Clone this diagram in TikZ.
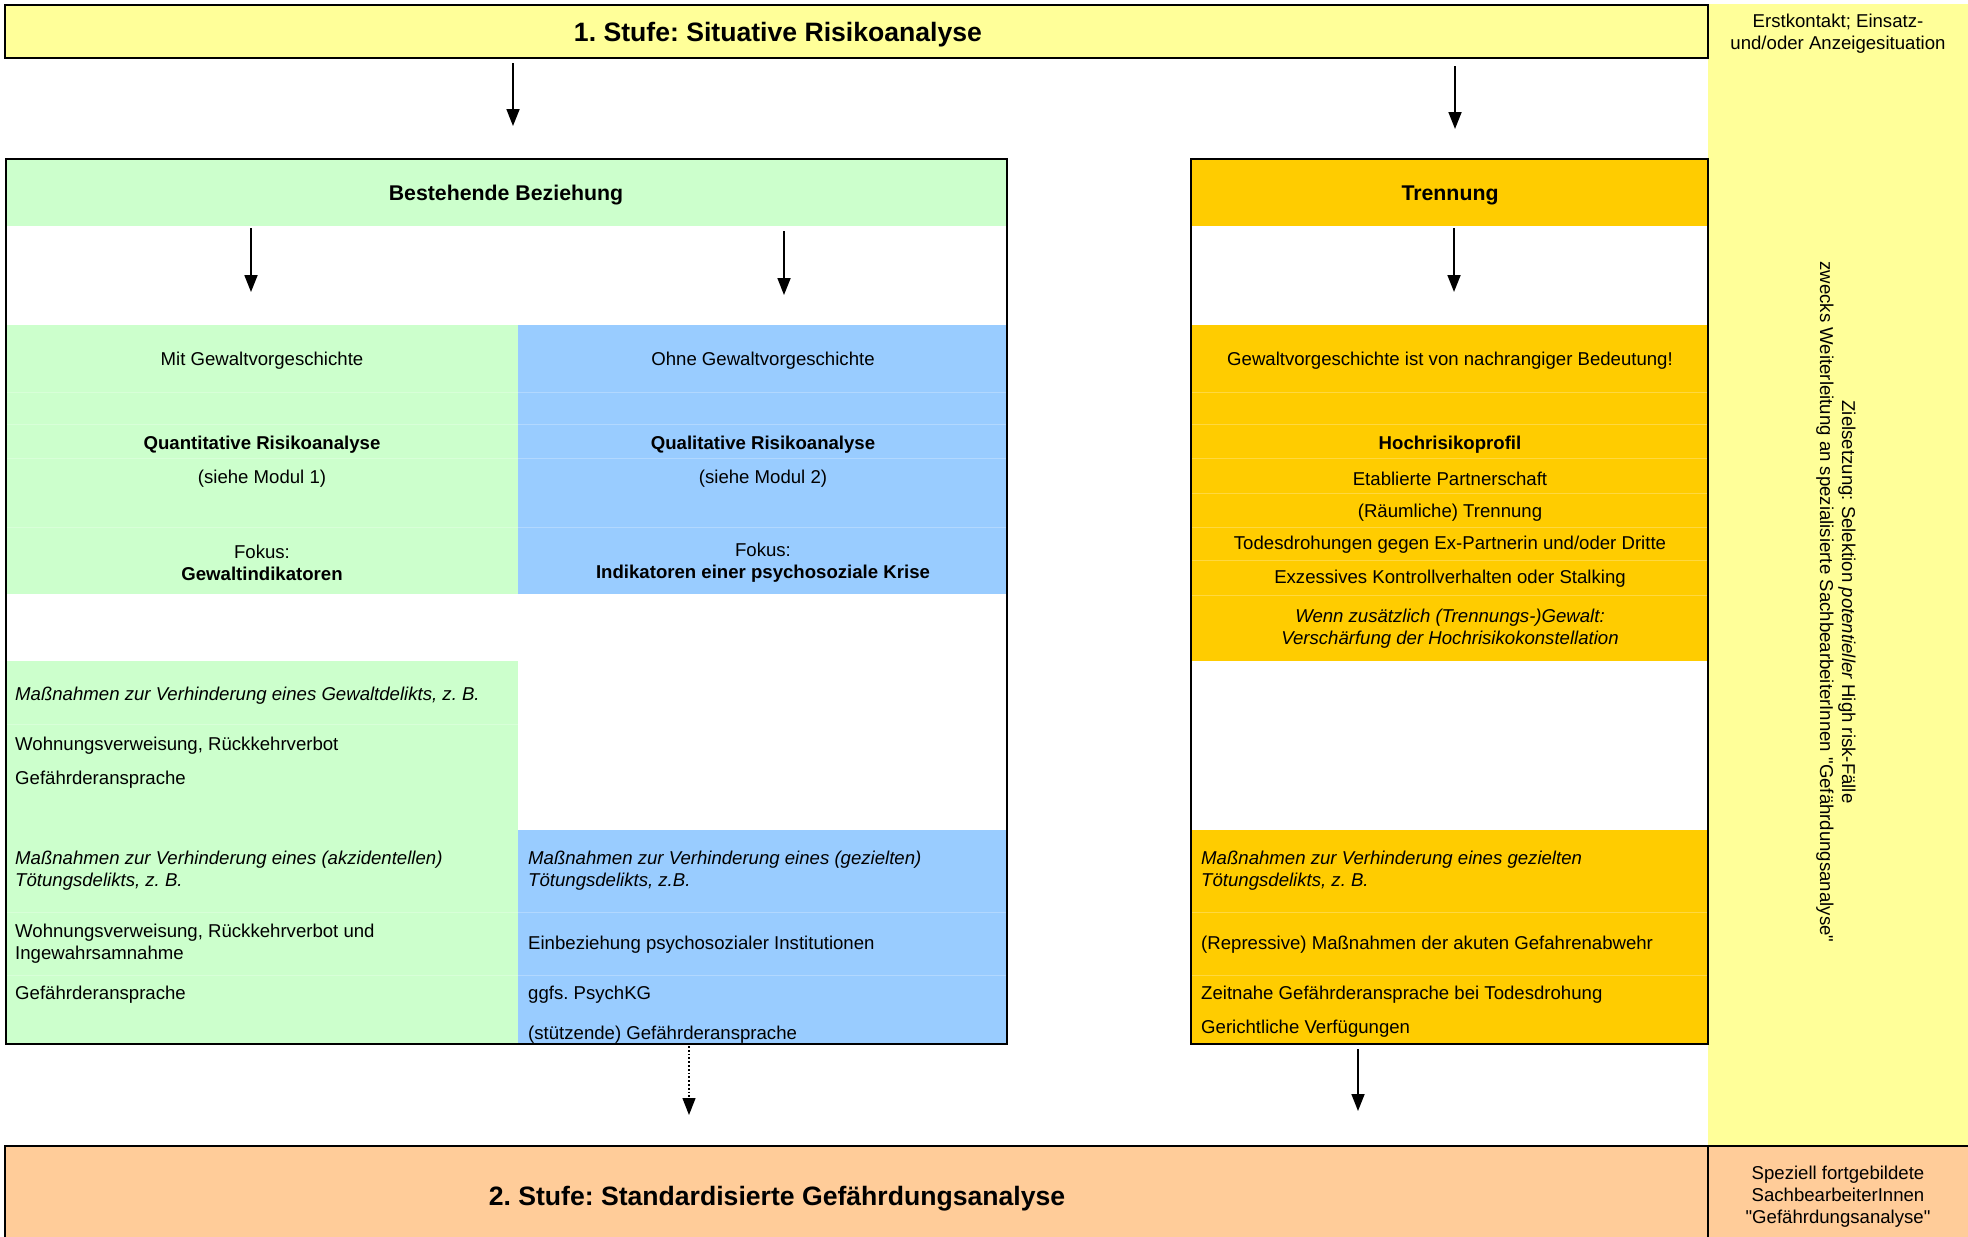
\documentclass[tikz,border=0pt]{standalone}
\usepackage{fontspec}
\setmainfont{Liberation Sans}[Ligatures=TeXOff]
\usetikzlibrary{arrows.meta}
\definecolor{cYel}{HTML}{FFFF99}
\definecolor{cGrn}{HTML}{CCFFCC}
\definecolor{cBlu}{HTML}{99CCFF}
\definecolor{cOra}{HTML}{FFCC00}
\definecolor{cPch}{HTML}{FFCC99}
\newcommand{\sq}{\char34\relax}
\begin{document}
\frenchspacing
\begin{tikzpicture}[x=1pt,y=-1pt,
  cell/.style={inner sep=0pt, outer sep=0pt, anchor=north west, draw=none},
  frame/.style={draw=black, line width=2.5pt, inner sep=0pt, outer sep=0pt, anchor=north west},
  body/.style={font=\fontsize{18.6}{22}\selectfont, inner sep=0pt, text=black},
  bodyl/.style={body, anchor=west, align=left},
  bodyc/.style={body, align=center},
  bodyi/.style={bodyl, font=\fontsize{18.6}{22}\selectfont\itshape},
  hdr/.style={font=\fontsize{21.3}{24}\selectfont\bfseries, inner sep=0pt},
  ttl/.style={font=\fontsize{26.6}{30}\selectfont\bfseries, inner sep=0pt},
  arr/.style={line width=1.8pt, -{Triangle[length=17pt,width=13pt]}},
  faint/.style={draw=white, opacity=0.25, line width=1pt}
]
\useasboundingbox (0,0) rectangle (1968,1237);
\fill[white] (0,0) rectangle (1968,1237);
% right information column
\node[cell, fill=cYel, minimum width=260pt, minimum height=1142pt] (rcol) at (1708,4) {};
% colored cells, left box
\node[cell, fill=cGrn, minimum width=1001pt, minimum height=67pt] (bestH) at (6,159) {};
\node[cell, fill=cGrn, minimum width=512pt, minimum height=269pt] (grnU) at (6,325) {};
\node[cell, fill=cBlu, minimum width=489pt, minimum height=269pt] (bluU) at (518,325) {};
\node[cell, fill=cGrn, minimum width=512pt, minimum height=383pt] (grnL) at (6,661) {};
\node[cell, fill=cBlu, minimum width=489pt, minimum height=214pt] (bluL) at (518,830) {};
% colored cells, right box
\node[cell, fill=cOra, minimum width=517pt, minimum height=67pt] (trenH) at (1191,159) {};
\node[cell, fill=cOra, minimum width=517pt, minimum height=336pt] (oraU) at (1191,325) {};
\node[cell, fill=cOra, minimum width=517pt, minimum height=214pt] (oraL) at (1191,830) {};
% faint grid lines
\foreach \yy in {392,424,458,527} {
  \draw[faint] (6,\yy) -- (1007,\yy);
}
\foreach \yy in {392,424,458,493,527,560,595} {
  \draw[faint] (1191,\yy) -- (1708,\yy);
}
\foreach \yy in {724,912,975} {
  \draw[faint] (6,\yy) -- (1007,\yy);
  \draw[faint] (1191,\yy) -- (1708,\yy);
}
% frames
\node[frame, fill=cYel, minimum width=1703pt, minimum height=53pt] (stufe1) at (5,5) {};
\node[frame, minimum width=1001pt, minimum height=885pt] (boxL) at (6,159) {};
\node[frame, minimum width=517pt, minimum height=885pt] (boxR) at (1191,159) {};
\node[frame, fill=cPch, minimum width=1703pt, minimum height=100pt] (stufe2) at (5,1146) {};
\node[frame, fill=cPch, minimum width=264pt, minimum height=100pt] (staff) at (1708,1146) {};
% titles and headers
\node[ttl] (t1) at (778,35) {1. Stufe: Situative Risikoanalyse};
\node[ttl] (t2) at (777,1199) {2. Stufe: Standardisierte Gefährdungsanalyse};
\node[hdr] (hB) at (506,195) {Bestehende Beziehung};
\node[hdr] (hT) at (1450,195) {Trennung};
% right column texts
\node[bodyc] (erst) at (1838,34) {Erstkontakt; Einsatz-\\und/oder Anzeigesituation};
\node[bodyc, rotate=-90] (ziel) at (1836,602) {Zielsetzung: Selektion \textit{potentieller} High risk-Fälle\\zwecks Weiterleitung an spezialisierte SachbearbeiterInnen \sq Gefährdungsanalyse\sq};
\node[bodyc] (spez) at (1838,1197) {Speziell fortgebildete\\SachbearbeiterInnen\\\sq Gefährdungsanalyse\sq};
% green upper texts
\node[bodyc] (mit) at (262,361) {Mit Gewaltvorgeschichte};
\node[bodyc, font=\fontsize{18.6}{22}\selectfont\bfseries] (quant) at (262,445) {Quantitative Risikoanalyse};
\node[bodyc] (mod1) at (262,479) {(siehe Modul 1)};
\node[bodyc] (fok1) at (262,563) {Fokus:\\\textbf{Gewaltindikatoren}};
% blue upper texts
\node[bodyc] (ohne) at (763,361) {Ohne Gewaltvorgeschichte};
\node[bodyc, font=\fontsize{18.6}{22}\selectfont\bfseries] (qual) at (763,445) {Qualitative Risikoanalyse};
\node[bodyc] (mod2) at (763,479) {(siehe Modul 2)};
\node[bodyc] (fok2) at (763,563) {Fokus:\\\textbf{Indikatoren einer psychosoziale Krise}};
% green lower texts
\node[bodyi] (g1) at (15,696) {Maßnahmen zur Verhinderung eines Gewaltdelikts, z. B.};
\node[bodyl] (g2) at (15,746) {Wohnungsverweisung, Rückkehrverbot};
\node[bodyl] (g3) at (15,780) {Gefährderansprache};
\node[bodyi] (g4) at (15,871) {Maßnahmen zur Verhinderung eines (akzidentellen)\\Tötungsdelikts, z. B.};
\node[bodyl] (g5) at (15,944) {Wohnungsverweisung, Rückkehrverbot und\\Ingewahrsamnahme};
\node[bodyl] (g6) at (15,995) {Gefährderansprache};
% blue lower texts
\node[bodyi] (b1) at (528,871) {Maßnahmen zur Verhinderung eines (gezielten)\\Tötungsdelikts, z.B.};
\node[bodyl] (b2) at (528,945) {Einbeziehung psychosozialer Institutionen};
\node[bodyl] (b3) at (528,995) {ggfs. PsychKG};
\node[bodyl] (b4) at (528,1035) {(stützende) Gefährderansprache};
% orange upper texts
\node[bodyc] (o1) at (1450,361) {Gewaltvorgeschichte ist von nachrangiger Bedeutung!};
\node[bodyc, font=\fontsize{18.6}{22}\selectfont\bfseries] (o2) at (1450,445) {Hochrisikoprofil};
\node[bodyc] (o3) at (1450,479) {Etablierte Partnerschaft};
\node[bodyc] (o4) at (1450,513) {(Räumliche) Trennung};
\node[bodyc] (o5) at (1450,545) {Todesdrohungen gegen Ex-Partnerin und/oder Dritte};
\node[bodyc] (o6) at (1450,579) {Exzessives Kontrollverhalten oder Stalking};
\node[bodyc, font=\fontsize{18.6}{22}\selectfont\itshape] (o7) at (1450,629) {Wenn zusätzlich (Trennungs-)Gewalt:\\Verschärfung der Hochrisikokonstellation};
% orange lower texts
\node[bodyi] (r1) at (1201,871) {Maßnahmen zur Verhinderung eines gezielten\\Tötungsdelikts, z. B.};
\node[bodyl] (r2) at (1201,945) {(Repressive) Maßnahmen der akuten Gefahrenabwehr};
\node[bodyl] (r3) at (1201,995) {Zeitnahe Gefährderansprache bei Todesdrohung};
\node[bodyl] (r4) at (1201,1029) {Gerichtliche Verfügungen};
% arrow x positions
\coordinate (xA) at (513,0);
\coordinate (xB) at (1455,0);
\coordinate (xC) at (251,0);
\coordinate (xD) at (784,0);
\coordinate (xE) at (1454,0);
\coordinate (xF) at (689,0);
\coordinate (xG) at (1358,0);
% arrows
\draw[arr, shorten <=5pt, shorten >=33pt] (stufe1.south -| xA) -- (bestH.north -| xA);
\draw[arr, shorten <=8pt, shorten >=30pt] (stufe1.south -| xB) -- (trenH.north -| xB);
\draw[arr, shorten <=2pt, shorten >=33pt] (bestH.south -| xC) -- (grnU.north -| xC);
\draw[arr, shorten <=5pt, shorten >=30pt] (bestH.south -| xD) -- (bluU.north -| xD);
\draw[arr, shorten <=2pt, shorten >=33pt] (trenH.south -| xE) -- (oraU.north -| xE);
\draw[arr, dotted, line width=1.3pt, shorten <=2pt, shorten >=31pt] (bluL.south -| xF) -- (stufe2.north -| xF);
\draw[arr, shorten <=5pt, shorten >=35pt] (oraL.south -| xG) -- (stufe2.north -| xG);
\end{tikzpicture}
\end{document}
